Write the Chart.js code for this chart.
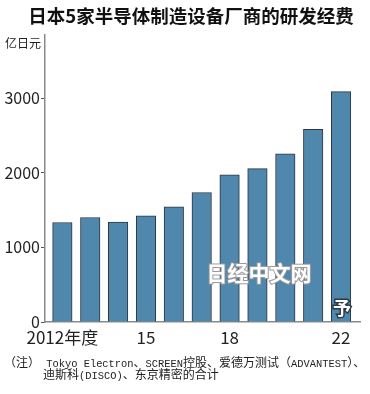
<!DOCTYPE html>
<html>
<head>
<meta charset="utf-8">
<script src="https://cdn.jsdelivr.net/npm/chart.js@4.4.1/dist/chart.umd.min.js"></script>
<style>
  body { margin: 0; background: #fff; }
  #wrap { position: relative; width: 370px; height: 394px; }
  .note { position: absolute; left: 4px; font-family: 'Noto Sans CJK SC', sans-serif; font-size: 12px; color: #222; white-space: nowrap; line-height: 12px; }
  .note .lat { font-family: 'Liberation Mono', monospace; font-size: 10.4px; }
</style>
</head>
<body>
<div id="wrap">
  <canvas id="rd" width="370" height="394"></canvas>
  <div class="note" style="top:356px">（注）<span class="lat"> Tokyo Electron</span>、<span class="lat">SCREEN</span>控股、爱德万测试（<span class="lat">ADVANTEST</span>）、</div>
  <div class="note" style="top:368px; left:43px">迪斯科<span class="lat">(DISCO)</span>、东京精密的合计</div>
</div>
<script>
// fiscal years and R&D spending (100 million yen)
var years = ["2012", "2013", "2014", "2015", "2016", "2017", "2018", "2019", "2020", "2021", "2022"];
var spending = [1333, 1400, 1339, 1423, 1543, 1735, 1972, 2056, 2253, 2583, 3087];
var xTickIndex = [0, 3, 6, 10];
var xTickText = ["2012年度", "15", "18", "22"];
var yTicks = [0, 1000, 2000, 3000];

var numFont = "'Liberation Sans Narrow', 'Noto Sans CJK SC', sans-serif";
var cjkFont = "'Noto Sans CJK SC', sans-serif";

var extras = {
  id: 'extras',
  afterDraw: function (chart) {
    var ctx = chart.ctx;
    ctx.save();
    // title
    ctx.fillStyle = '#111';
    ctx.font = "bold 18.5px " + cjkFont;
    ctx.textAlign = 'center';
    ctx.textBaseline = 'middle';
    ctx.fillText('日本5家半导体制造设备厂商的研发经费', 191, 16);
    // unit
    ctx.font = "12px " + cjkFont;
    ctx.textAlign = 'left';
    ctx.fillStyle = '#222';
    ctx.fillText('亿日元', 5, 43);
    // watermark
    ctx.font = "bold 21px " + cjkFont;
    ctx.textAlign = 'center';
    ctx.lineWidth = 2;
    ctx.strokeStyle = '#9a9a9a';
    ctx.strokeText('日经中文网', 259, 273);
    ctx.fillStyle = '#fff';
    ctx.fillText('日经中文网', 259, 273);
    // forecast mark on the last bar
    var meta = chart.getDatasetMeta(0);
    var last = meta.data[meta.data.length - 1];
    ctx.font = "bold 18px " + cjkFont;
    ctx.lineWidth = 3;
    ctx.strokeStyle = '#2a3a48';
    ctx.strokeText('予', last.x + 1, 308);
    ctx.fillStyle = '#fff';
    ctx.fillText('予', last.x + 1, 308);
    ctx.restore();
  }
};

var ctx = document.getElementById("rd").getContext("2d");
var rdChart = new Chart(ctx, {
  type: 'bar',
  data: {
    datasets: [{
      data: spending.map(function (v, i) { return { x: i, y: v }; }),
      backgroundColor: '#4f87ad',
      borderColor: '#2c3640',
      borderWidth: 1,
      borderSkipped: 'bottom',
      barThickness: 19.5
    }]
  },
  options: {
    responsive: false,
    animation: false,
    devicePixelRatio: 1,
    layout: { padding: { left: 0, right: 10, top: 35, bottom: 42 } },
    plugins: { legend: { display: false }, tooltip: { enabled: false } },
    scales: {
      x: {
        type: 'linear',
        offset: false,
        min: -0.623,
        max: 10.68,
        afterBuildTicks: function (s) { s.ticks = xTickIndex.map(function (v) { return { value: v }; }); },
        afterFit: function (s) { s.height = 30; },
        grid: { display: false },
        border: { color: '#8a8a8a', width: 1.5 },
        ticks: {
          autoSkip: false,
          maxRotation: 0,
          padding: -3,
          color: '#222',
          font: { family: numFont, size: 17 },
          callback: function (v) { return xTickText[xTickIndex.indexOf(v)]; }
        }
      },
      y: {
        min: 0,
        max: 3846,
        afterBuildTicks: function (s) { s.ticks = yTicks.map(function (v) { return { value: v }; }); },
        afterFit: function (s) { s.width = 45; },
        grid: { drawOnChartArea: false, tickLength: 4, color: '#555' },
        border: { color: '#8a8a8a', width: 1.5 },
        ticks: {
          padding: 1,
          color: '#222',
          font: { family: numFont, size: 16 },
          callback: function (v) { return String(v); }
        }
      }
    }
  },
  plugins: [extras]
});
</script>
</body>
</html>
